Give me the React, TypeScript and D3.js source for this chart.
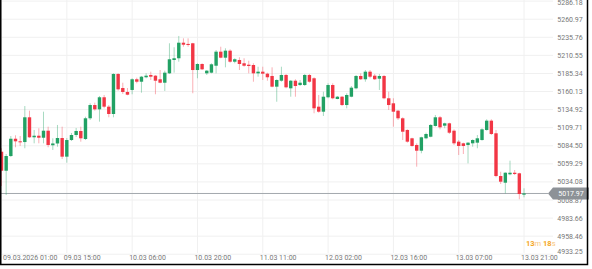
import React from 'react';
import * as d3 from 'd3';

const opens = [
  5076.2, 5049.7, 5070.2, 5094.3, 5090.7, 5089.7, 5124.2, 5096.3, 5098.5, 5095.7,
  5105.5, 5085.2, 5087.7, 5095.3, 5069.3, 5092.5, 5099.5, 5105.1, 5093.9, 5122.8,
  5141.3, 5135.3, 5152.1, 5139.0, 5128.8, 5184.6, 5165.0, 5159.5, 5162.3, 5177.2,
  5173.8, 5180.0, 5183.2, 5182.2, 5177.2, 5172.4, 5185.5, 5204.1, 5206.5, 5228.2,
  5226.5, 5227.4, 5190.1, 5198.5, 5185.5, 5186.4, 5196.1, 5215.7, 5207.3, 5217.1,
  5201.7, 5204.1, 5199.5, 5197.5, 5197.1, 5185.5, 5187.8, 5185.0, 5181.8, 5166.9,
  5175.2, 5183.2, 5164.6, 5175.2, 5169.2, 5169.2, 5183.2, 5178.6, 5139.0, 5132.0,
  5152.1, 5169.2, 5149.7, 5152.9, 5141.3, 5152.9, 5164.6, 5181.8, 5177.2, 5187.8,
  5182.2, 5178.0, 5181.8, 5150.7, 5143.7, 5133.4, 5122.8, 5106.5, 5094.9, 5085.6,
  5077.6, 5094.9, 5097.1, 5112.1, 5124.2, 5112.5, 5115.8, 5105.5, 5090.2, 5087.9,
  5085.6, 5087.9, 5088.8, 5092.5, 5106.5, 5119.5, 5101.9, 5042.3, 5033.0, 5044.7,
  5046.9, 5046.1, 5016.3,
];
const highs = [
  5081.0, 5073.0, 5098.1, 5099.1, 5098.1, 5139.9, 5133.4, 5106.5, 5108.9, 5132.0,
  5111.1, 5094.9, 5113.5, 5111.1, 5095.3, 5102.3, 5109.3, 5111.1, 5125.0, 5143.7,
  5144.6, 5153.9, 5155.3, 5141.3, 5185.5, 5185.5, 5172.4, 5165.0, 5178.6, 5179.4,
  5181.8, 5185.5, 5187.8, 5183.0, 5190.1, 5189.2, 5227.4, 5221.8, 5237.6, 5234.3,
  5234.3, 5228.0, 5199.5, 5199.5, 5190.1, 5199.5, 5218.0, 5222.6, 5220.4, 5219.0,
  5206.5, 5207.9, 5206.5, 5203.1, 5199.5, 5194.7, 5194.7, 5186.4, 5193.9, 5177.2,
  5194.7, 5184.6, 5176.2, 5177.2, 5176.2, 5184.6, 5184.6, 5180.0, 5155.3, 5159.9,
  5171.6, 5171.6, 5153.9, 5153.9, 5157.7, 5167.8, 5183.2, 5185.5, 5190.1, 5190.1,
  5184.6, 5184.6, 5183.2, 5159.9, 5150.7, 5134.4, 5124.2, 5107.4, 5095.7, 5087.9,
  5097.1, 5102.7, 5114.8, 5127.4, 5126.0, 5116.7, 5116.7, 5107.4, 5092.5, 5088.8,
  5089.5, 5093.5, 5099.5, 5108.9, 5121.4, 5121.4, 5106.5, 5048.3, 5047.5, 5063.7,
  5050.7, 5046.9, 5025.2,
];
const lows = [
  5028.4, 5015.8, 5068.8, 5082.4, 5084.2, 5081.0, 5095.6, 5087.9, 5087.9, 5087.9,
  5082.4, 5078.6, 5083.2, 5066.0, 5060.9, 5091.1, 5096.7, 5090.2, 5092.5, 5120.4,
  5133.4, 5118.1, 5136.7, 5124.2, 5124.2, 5161.3, 5156.7, 5154.9, 5156.3, 5171.6,
  5158.5, 5178.6, 5176.2, 5156.3, 5171.6, 5160.9, 5184.6, 5186.4, 5201.7, 5222.6,
  5222.6, 5157.7, 5178.6, 5190.1, 5183.2, 5185.5, 5185.5, 5206.5, 5193.9, 5200.3,
  5199.5, 5190.1, 5194.7, 5185.5, 5173.8, 5180.8, 5176.2, 5175.2, 5166.0, 5145.9,
  5173.8, 5164.6, 5152.9, 5152.9, 5167.8, 5167.8, 5172.4, 5129.8, 5130.6, 5126.0,
  5150.7, 5149.3, 5149.3, 5139.9, 5136.7, 5152.1, 5163.2, 5176.2, 5173.8, 5178.6,
  5176.2, 5162.3, 5149.3, 5134.4, 5111.1, 5120.4, 5092.5, 5088.8, 5083.2, 5055.3,
  5074.0, 5093.5, 5096.3, 5111.1, 5107.4, 5108.9, 5100.9, 5085.6, 5071.6, 5073.0,
  5060.0, 5083.2, 5081.0, 5091.6, 5105.5, 5099.5, 5040.5, 5031.2, 5018.2, 5043.3,
  5043.7, 5009.9, 5012.6,
];
const closes = [
  5049.7, 5070.2, 5094.3, 5090.7, 5089.7, 5124.2, 5096.3, 5098.5, 5095.7, 5105.5,
  5085.6, 5087.7, 5095.3, 5069.3, 5092.5, 5099.5, 5105.1, 5094.9, 5122.8, 5141.3,
  5135.3, 5152.1, 5139.0, 5128.8, 5184.6, 5163.2, 5159.5, 5155.7, 5177.2, 5173.8,
  5180.8, 5182.2, 5180.8, 5175.2, 5172.4, 5186.4, 5205.1, 5206.5, 5228.2, 5225.4,
  5225.0, 5190.1, 5198.5, 5191.1, 5189.2, 5198.1, 5215.7, 5207.3, 5217.1, 5201.7,
  5205.1, 5198.5, 5196.1, 5195.7, 5185.5, 5187.8, 5185.0, 5180.0, 5166.9, 5176.2,
  5183.2, 5166.0, 5175.2, 5167.8, 5172.4, 5183.2, 5173.8, 5136.7, 5132.0, 5152.9,
  5169.2, 5150.7, 5152.9, 5141.3, 5155.3, 5165.5, 5181.8, 5177.2, 5187.8, 5180.8,
  5177.2, 5181.8, 5150.7, 5141.3, 5132.0, 5122.8, 5104.1, 5090.2, 5084.2, 5077.6,
  5096.3, 5100.9, 5113.5, 5124.2, 5110.2, 5115.8, 5102.7, 5087.9, 5084.2, 5084.2,
  5088.8, 5092.5, 5094.9, 5107.4, 5119.5, 5100.9, 5042.3, 5034.4, 5046.9, 5046.9,
  5045.1, 5017.2, 5017.97,
];

const xTickIndex = [0, 14, 28, 42, 56, 70, 84, 98, 112];
const xTickLabels = [
  '09.03.2026 01:00', '09.03 15:00', '10.03 06:00', '10.03 20:00', '11.03 11:00',
  '12.03 02:00', '12.03 16:00', '13.03 07:00', '13.03 21:00',
];
const yTickValues = [
  5286.18, 5260.97, 5235.76, 5210.55, 5185.34, 5160.13, 5134.92, 5109.71,
  5084.5, 5059.29, 5034.08, 5008.87, 4983.66, 4958.46, 4933.25,
];
const lastPrice = 5017.97;
const countdownParts = ['13', 'm', '18', 's'];

const W = 592;
const H = 269;
const UP = '#22a164';
const DOWN = '#f23645';
const FONT = 'Roboto, "Noto Sans", sans-serif';

export default function App() {
  const x = d3.scaleLinear().domain([0, opens.length - 1]).range([1.5, 524]);
  const y = d3.scaleLinear().domain([5008.87, 5260.97]).range([200, 19.2]);
  const bodyW = 3.4;
  const plotRight = 553;
  const lastY = y(lastPrice);
  const tagL = 548;
  const tagR = 589;

  return (
    <svg
      width={W}
      height={H}
      style={{ position: 'absolute', left: 0, top: 0, background: '#fff' }}
      fontFamily={FONT}
    >
      {yTickValues.map((v) => (
        <line key={'hg' + v} x1={0} x2={plotRight} y1={y(v)} y2={y(v)} stroke="#f0f0f0" strokeWidth={1} />
      ))}
      {xTickIndex.map((i) => (
        <line key={'vg' + i} x1={x(i)} x2={x(i)} y1={0} y2={253} stroke="#f0f0f0" strokeWidth={1} />
      ))}
      <line x1={0} x2={tagL} y1={lastY} y2={lastY} stroke="#a3a8ad" strokeWidth={1} />
      {opens.map((o, i) => {
        const c = closes[i];
        const up = c >= o;
        const col = up ? UP : DOWN;
        const top = y(Math.max(o, c));
        const bot = y(Math.min(o, c));
        const cx = x(i);
        return (
          <g key={'c' + i}>
            <line x1={cx} x2={cx} y1={y(highs[i])} y2={y(lows[i])} stroke={col} strokeOpacity={0.4} strokeWidth={1} />
            <rect x={cx - bodyW / 2} y={top} width={bodyW} height={Math.max(1, bot - top)} fill={col} />
          </g>
        );
      })}
      {yTickValues.map((v) => (
        <text
          key={'yl' + v}
          x={570}
          y={Math.max(4.5, Math.min(y(v), 251) + 2.5)}
          fontSize={7}
          fill="#777"
          textAnchor="middle"
        >
          {v.toFixed(2)}
        </text>
      ))}
      <path
        d={`M ${tagL} ${lastY} L ${tagL + 5} ${lastY - 6} L ${tagR} ${lastY - 6} L ${tagR} ${lastY + 6} L ${tagL + 5} ${lastY + 6} Z`}
        fill="#8d9297"
      />
      <text x={(tagL + 5 + tagR) / 2} y={lastY + 2.5} fontSize={7} fill="#fff" textAnchor="middle">
        {lastPrice.toFixed(2)}
      </text>
      {xTickIndex.map((idx, k) => (
        <text key={'xl' + idx} x={Math.max(3, x(idx) - 3)} y={259.5} fontSize={7} fill="#777">
          {xTickLabels[k]}
        </text>
      ))}
      <text x={526} y={245.5} fontSize={7.5}>
        <tspan fill="#f5a623" fontWeight="bold">{countdownParts[0]}</tspan>
        <tspan fill="#f8c77e">{countdownParts[1]} </tspan>
        <tspan fill="#f5a623" fontWeight="bold">{countdownParts[2]}</tspan>
        <tspan fill="#f8c77e">{countdownParts[3]}</tspan>
      </text>
      <path d={`M 0.75 0 L 0.75 264.5 L 587.5 264.5 L 587.5 0`} fill="none" stroke="#000" strokeWidth={1.5} />
    </svg>
  );
}
